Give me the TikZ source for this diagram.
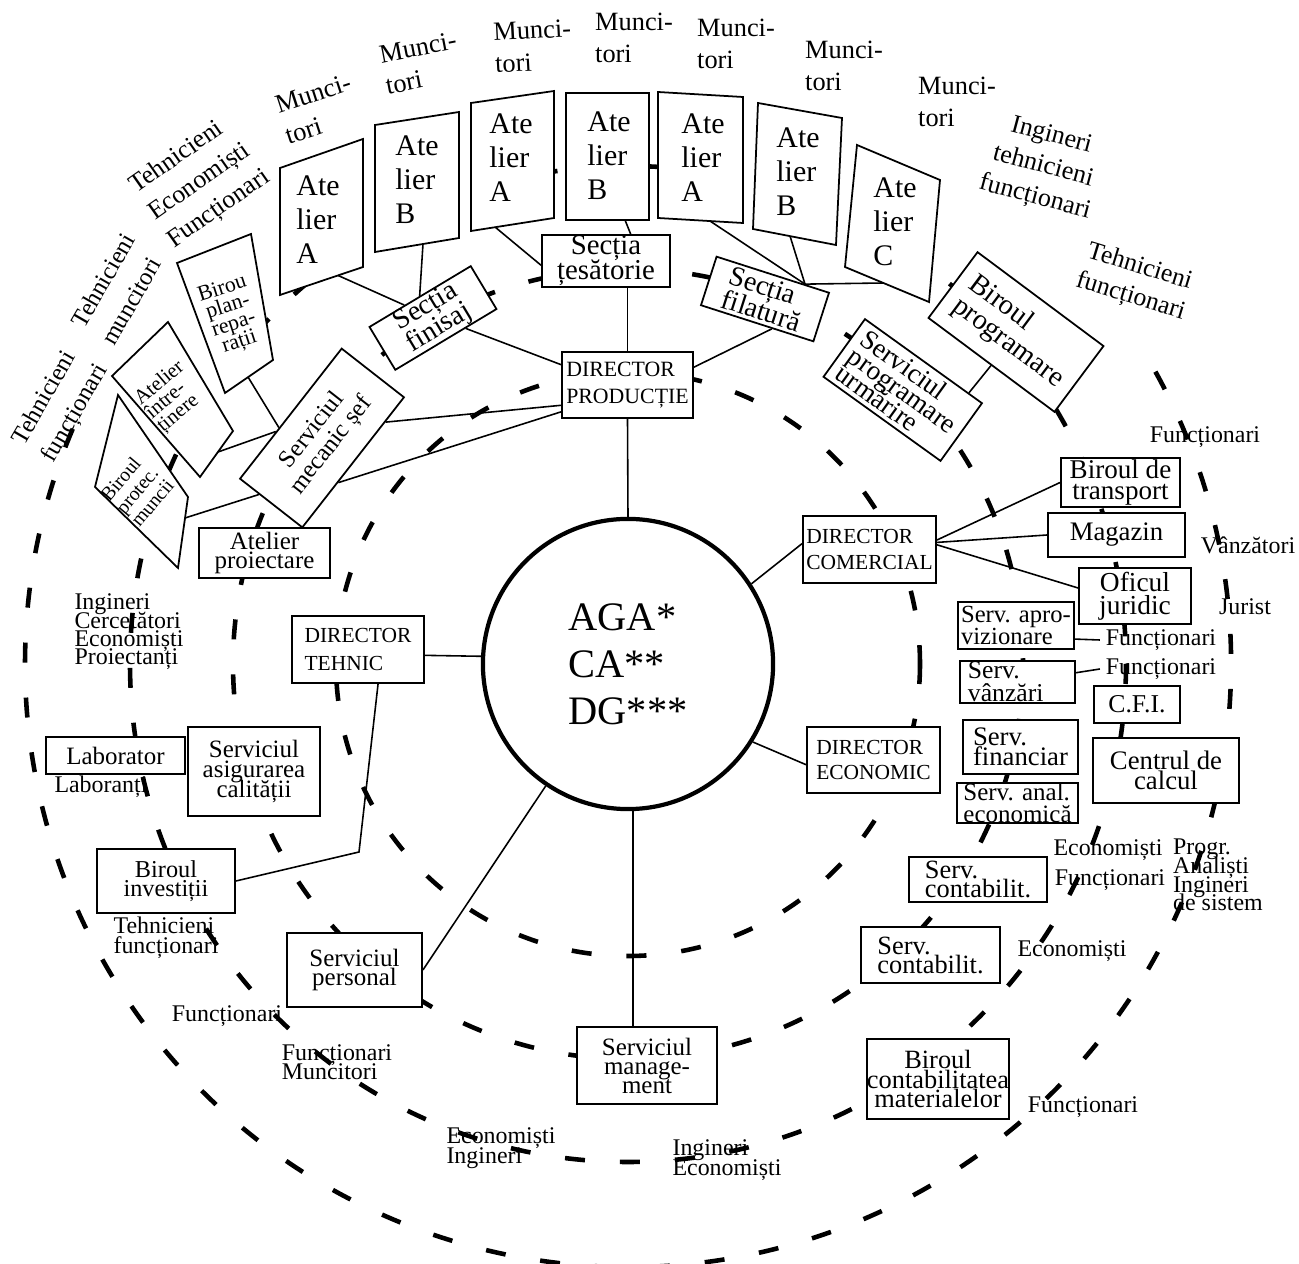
\documentclass[tikz,border=0pt]{standalone}
\usepackage{fontspec}
\setmainfont{Liberation Serif}
\usetikzlibrary{calc,backgrounds}
\newcommand\myfs[2]{\fontsize{#1}{#2}\selectfont\lineskiplimit=-50pt\relax}
\tikzset{
  ring/.style={line width=1.3pt, dash pattern=on 0.2cm off 0.35cm},
  bx/.style={draw, fill=white, line width=0.5pt, inner sep=0pt, align=center},
  poly/.style={draw, fill=white, line width=0.5pt},
  con/.style={line width=0.45pt},
  lab/.style={inner sep=0pt, align=left},
}
\begin{document}
\begin{tikzpicture}[x=0.01cm, y=-0.01cm]
\useasboundingbox (0,0) rectangle (1299,1264);

% centre
\node[circle, draw, fill=white, line width=1.2pt, minimum size=2.9cm, inner sep=0pt, align=left, font=\myfs{11.5}{13.4}] (aga) at (628,664) {AGA*\\CA**\\DG***};

% ateliers
\draw[poly] (280,168) -- (363,139) -- (363,267) -- (280,295) -- cycle;
\node[lab, font=\myfs{8.5}{9.7}] (at1) at (318,220) {Ate\\lier\\A};
\coordinate (at1b) at (337,275);
\draw[poly] (375,125) -- (459,112) -- (459,238) -- (375,252) -- cycle;
\node[lab, font=\myfs{8.5}{9.7}] (at2) at (417,180) {Ate\\lier\\B};
\coordinate (at2b) at (423,244);
\draw[poly] (471,103) -- (554,91) -- (554,218) -- (471,231) -- cycle;
\node[lab, font=\myfs{8.5}{9.7}] (at3) at (511,158) {Ate\\lier\\A};
\coordinate (at3b) at (495,227);
\draw[poly] (566,93) -- (649,93) -- (649,220) -- (566,220) -- cycle;
\node[lab, font=\myfs{8.5}{9.7}] (at4) at (609,156) {Ate\\lier\\B};
\coordinate (at4b) at (625,220);
\draw[poly] (658,92) -- (743,97) -- (743,223) -- (658,218) -- cycle;
\node[lab, font=\myfs{8.5}{9.7}] (at5) at (703,158) {Ate\\lier\\A};
\coordinate (at5b) at (710,221);
\draw[poly] (758,103) -- (842,118) -- (836,245) -- (753,229) -- cycle;
\node[lab, font=\myfs{8.5}{9.7}] (at6) at (798,172) {Ate\\lier\\B};
\coordinate (at6b) at (790,236);
\draw[poly] (857,145) -- (940,180) -- (929,302) -- (845,267) -- cycle;
\node[lab, font=\myfs{8.5}{9.7}] (at7) at (895,222) {Ate\\lier\\C};
\coordinate (at7b) at (883,283);

% Muncitori labels
\node[lab, rotate=18, font=\myfs{7.5}{9.1}] (m1) at (318,109) {Munci-\\tori};
\node[lab, rotate=11, font=\myfs{7.5}{9.1}] (m2) at (421,63) {Munci-\\tori};
\node[lab, rotate=3, font=\myfs{7.5}{9.1}] (m3) at (533,46) {Munci-\\tori};
\node[lab, font=\myfs{7.5}{9.1}] (m4) at (634,38) {Munci-\\tori};
\node[lab, font=\myfs{7.5}{9.1}] (m5) at (736,44) {Munci-\\tori};
\node[lab, font=\myfs{7.5}{9.1}] (m6) at (844,66) {Munci-\\tori};
\node[lab, font=\myfs{7.5}{9.1}] (m7) at (957,102) {Munci-\\tori};

% sections
\node[bx, minimum width=1.28cm, minimum height=0.52cm, font=\myfs{8.2}{7.1}] (tes) at (606,261) {Secția\\țesătorie};
\node[bx, align=left, rotate=31, minimum width=1.18cm, minimum height=0.50cm, font=\myfs{8}{7}] (fin) at (433,318) {Secția\\finisaj};
\node[bx, align=left, rotate=-17.8, minimum width=1.18cm, minimum height=0.51cm, font=\myfs{8}{7}] (fil) at (765,299) {Secția\\filatură};
\node[bx, align=left, minimum width=1.31cm, minimum height=0.66cm, font=\myfs{6.2}{7.5}] (dp) at (627.5,385) {DIRECTOR\\PRODUCȚIE};
\node[bx, align=left, rotate=-36.7, minimum width=1.57cm, minimum height=0.82cm, font=\myfs{8.1}{7.8}] (bprog) at (1016,332) {Biroul\\programare};
\node[bx, align=left, rotate=-35.7, minimum width=1.44cm, minimum height=0.71cm, font=\myfs{7.8}{6}] (sprog) at (902.75,390) {Serviciul\\programare\\urmărire};
\node[bx, rotate=52, minimum width=1.65cm, minimum height=0.79cm, font=\myfs{7}{6.8}] (smsef) at (322,438) {Serviciul\\mecanic șef};

% small left boxes
\draw[poly] (177,263) -- (251,234) -- (273,360) -- (225,393) -- cycle;
\node[lab, align=center, rotate=18, font=\myfs{6.2}{5.3}] (bpr) at (231,316) {Birou\\plan-\\repa-\\rații};
\coordinate (bprb) at (248,377);
\draw[poly] (112,376) -- (168,322) -- (233,431) -- (200,477) -- cycle;
\node[lab, rotate=40, font=\myfs{5.9}{5}] (ai) at (171,397) {Atelier\\între-\\ținere};
\coordinate (aib) at (218,452);
\draw[poly] (118,395) -- (188,497) -- (178,568) -- (95,487) -- cycle;
\node[lab, rotate=50, font=\myfs{5.6}{5.6}] (bpm) at (137,490) {Biroul\\protec.\\muncii};
\coordinate (bpmb) at (185,518);

% rotated group labels
\node[lab, rotate=35, font=\myfs{7.3}{9.4}] (t1) at (200,182) {Tehnicieni\\Economiști\\Funcționari};
\node[lab, rotate=60, font=\myfs{7}{9.8}] (t2) at (118,289) {Tehnicieni\\muncitori};
\node[lab, rotate=60, font=\myfs{7}{9.7}] (t3) at (61,405) {Tehnicieni\\funcționari};
\node[lab, align=center, rotate=-15, font=\myfs{7.4}{9.1}] (t4) at (1043,167) {Ingineri\\tehnicieni\\funcționari};
\node[lab, align=center, rotate=-17, font=\myfs{7.3}{8.8}] (t5) at (1135,282) {Tehnicieni\\funcționari};

% commercial side
\node[bx, align=left, minimum width=1.33cm, minimum height=0.67cm, font=\myfs{6.1}{7.2}] (dc) at (869.5,549.5) {DIRECTOR\\COMERCIAL};
\node[bx, minimum width=1.19cm, minimum height=0.49cm, font=\myfs{7.7}{5.8}] (bt) at (1120.5,482.5) {Biroul de\\transport};
\node[bx, minimum width=1.37cm, minimum height=0.44cm, font=\myfs{7.6}{7.6}] (mag) at (1116.5,535) {Magazin};
\node[bx, minimum width=1.12cm, minimum height=0.56cm, font=\myfs{7.8}{6.6}] (of) at (1135,596) {Oficul\\juridic};
\node[lab, font=\myfs{6.8}{6.8}] (f0) at (1205,437) {Funcționari};
\node[lab, font=\myfs{6.8}{6.8}] (vz) at (1248,545) {Vânzători};
\node[lab, font=\myfs{6.8}{6.8}] (ju) at (1245,607) {Jurist};

% economic side
\node[bx, align=left, minimum width=1.16cm, minimum height=0.47cm, font=\myfs{7}{6.3}] (sap) at (1016,625.5) {Serv. apro-\\vizionare};
\node[bx, align=left, minimum width=1.15cm, minimum height=0.42cm, text width=0.99cm, inner xsep=0.08cm, font=\myfs{7.3}{6.5}] (sv) at (1017.5,682) {Serv.\\vânzări};
\node[lab, font=\myfs{6.8}{6.8}] (f1) at (1161,640) {Funcționari};
\node[lab, font=\myfs{6.8}{6.8}] (f2) at (1161,669) {Funcționari};
\node[bx, minimum width=0.86cm, minimum height=0.37cm, font=\myfs{7.3}{7.3}] (cfi) at (1137,704.5) {C.F.I.};
\node[bx, align=left, minimum width=1.15cm, minimum height=0.54cm, font=\myfs{7.6}{5.6}] (sfin) at (1020.5,747) {Serv.\\financiar};
\node[bx, minimum width=1.46cm, minimum height=0.65cm, font=\myfs{7.6}{5.6}] (cc) at (1166,770.5) {Centrul de\\calcul};
\node[bx, align=left, minimum width=1.21cm, minimum height=0.40cm, font=\myfs{7.1}{6.2}] (sae) at (1017.5,803) {Serv. anal.\\economică};
\node[bx, align=left, minimum width=1.33cm, minimum height=0.66cm, font=\myfs{6.1}{7.2}] (de) at (873.5,760) {DIRECTOR\\ECONOMIC};
\node[bx, align=left, minimum width=1.38cm, minimum height=0.45cm, font=\myfs{7.5}{5.4}] (sc1) at (978,879.5) {Serv.\\contabilit.};
\node[bx, align=left, minimum width=1.39cm, minimum height=0.56cm, font=\myfs{7.5}{5.4}] (sc2) at (930.5,955) {Serv.\\contabilit.};
\node[bx, minimum width=1.40cm, minimum height=0.80cm, font=\myfs{7.5}{5.5}] (bcm) at (938,1079) {Biroul\\contabilitatea\\materialelor};
\node[lab, font=\myfs{6.8}{6.8}] (ec1) at (1108,850) {Economiști};
\node[lab, font=\myfs{6.8}{6.8}] (fu1) at (1110,880) {Funcționari};
\node[lab, font=\myfs{6.8}{5.3}] (pr) at (1218,875) {Progr.\\Analiști\\Ingineri\\de sistem};
\node[lab, font=\myfs{6.8}{6.8}] (ec2) at (1072,951) {Economiști};
\node[lab, font=\myfs{6.8}{6.8}] (fu2) at (1083,1107) {Funcționari};

% bottom
\node[bx, minimum width=1.40cm, minimum height=0.77cm, font=\myfs{7.1}{5.4}] (sm) at (647,1065.5) {Serviciul\\manage-\\ment};
\node[lab, font=\myfs{6.8}{5.6}] (ie) at (727,1160) {Ingineri\\Economiști};
\node[lab, font=\myfs{6.8}{5.6}] (ei) at (501,1148) {Economiști\\Ingineri};
\node[bx, minimum width=1.35cm, minimum height=0.74cm, font=\myfs{7.1}{5.3}] (sp) at (354.5,970) {Serviciul\\personal};
\node[lab, font=\myfs{6.8}{5.3}] (fm) at (337,1062) {Funcționari\\Muncitori};
\node[lab, font=\myfs{6.8}{6.8}] (fu3) at (227,1016) {Funcționari};

% technical side
\node[bx, minimum width=1.38cm, minimum height=0.64cm, font=\myfs{6.9}{5.3}] (bi) at (166,881) {Biroul\\investiții};
\node[lab, font=\myfs{6.8}{5.6}] (tf) at (166,938) {Tehnicieni\\funcționari};
\node[bx, minimum width=1.39cm, minimum height=0.37cm, font=\myfs{7.1}{7.1}] (labor) at (115.5,755.5) {Laborator};
\node[lab, font=\myfs{6.8}{6.8}] (lbr) at (101,787) {Laboranți};
\node[bx, minimum width=1.32cm, minimum height=0.89cm, font=\myfs{7.1}{5.7}] (sac) at (254,771.5) {Serviciul\\asigurarea\\calității};
\node[bx, minimum width=1.31cm, minimum height=0.50cm, font=\myfs{7.1}{5.3}] (ap) at (264.5,553) {Atelier\\proiectare};
\node[bx, align=left, minimum width=1.32cm, minimum height=0.67cm, font=\myfs{6.1}{7.7}] (dt) at (358,649.5) {DIRECTOR\\TEHNIC};
\node[lab, font=\myfs{6.8}{5.2}] (icep) at (129,632) {Ingineri\\Cercetători\\Economiști\\Proiectanți};
\coordinate (bend) at (359,852);

\begin{pgfonlayer}{background}
\fill[white] (0,0) rectangle (1299,1264);
\draw[ring] (628,664) circle[radius=292];
\draw[ring] (628,664) circle[radius=395];
\draw[ring] (628,664) circle[radius=498];
\draw[ring] (628,664) ++(-29:603) arc[start angle=-29, end angle=203, radius=603];

\draw[con] (aga.north) -- (dp.south);
\draw[con] (dp.north) -- (dp.north |- tes.south);
\draw[con] (dp.163) -- ($(fin.south west)!0.69!(fin.south east)$);
\draw[con] (dp.15) -- ($(fil.south west)!0.63!(fil.south east)$);
\draw[con] (dp.197) -- ($(smsef.south west)!0.81!(smsef.south east)$);
\draw[con] (dp.202) -- ($(smsef.south west)!0.35!(smsef.south east)$);
\draw[con] (at1b) -- ($(fin.north west)!0.35!(fin.north east)$);
\draw[con] (at2b) -- (fin.north);
\draw[con] (at3b) -- ($(tes.north west)!0.58!(tes.south west)$);
\draw[con] (at4b) -- ($(tes.north west)!0.69!(tes.north east)$);
\coordinate (filtop) at ($(fil.north west)!0.78!(fil.north east)$);
\draw[con] (at5b) -- (filtop);
\draw[con] (at6b) -- (filtop);
\draw[con] (at7b) -- (filtop);
\draw[con] (bprog.south) -- ($(sprog.north west)!0.88!(sprog.north east)$);
\draw[con] (aga.33) -- (dc.175);
\draw[con] (dc.8) -- (bt.west);
\draw[con] (dc.6) -- (mag.west);
\draw[con] (dc.4) -- (of.172);
\draw[con] (sap.-13) -- ([xshift=-1.5pt]f1.west);
\draw[con] (sv.9) -- ([xshift=-1.5pt]f2.west);
\draw[con] (aga.-32) -- (de.184);
\draw[con] (dt.-5) -- (aga.177);
\draw[con] ($(dt.south west)!0.65!(dt.south east)$) -- (bend) -- (bi.east);
\draw[con] (sp.east) -- (aga.236);
\draw[con] (aga.-88) -- (aga.-88 |- sm.north);
\draw[con] (bprb) -- ($(smsef.north west)!0.39!(smsef.north east)$);
\draw[con] (aib) -- ($(smsef.north west)!0.36!(smsef.north east)$);
\draw[con] (bpmb) -- ($(smsef.north west)!0.315!(smsef.south west)$);
\end{pgfonlayer}
\end{tikzpicture}
\end{document}
